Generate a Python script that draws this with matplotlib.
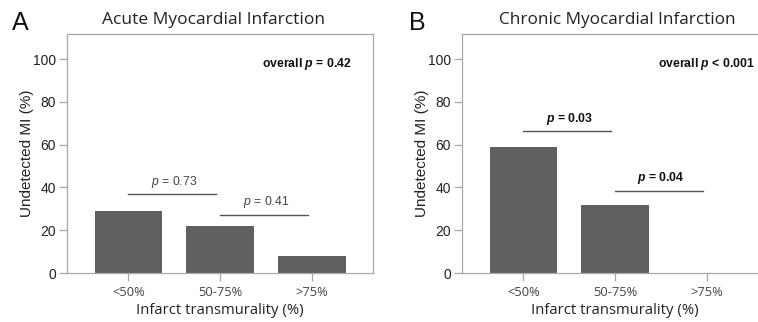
import numpy as np
import matplotlib
matplotlib.use("Agg")
import matplotlib.pyplot as plt

plt.rcParams['mathtext.fontset'] = 'custom'
plt.rcParams['mathtext.it'] = 'Liberation Sans:italic'
plt.rcParams['mathtext.bf'] = 'Liberation Sans:bold:italic'
plt.rcParams['mathtext.rm'] = 'Liberation Sans'

categories = ['<50%', '50-75%', '>75%']
acute = [29, 22, 8]
chronic = [59, 32, 0]

# pairwise comparisons: (left bar, right bar), bracket height, p text
pairs = [(0, 1), (1, 2)]
acute_bracket_y = [37, 27.3]
acute_p = ['0.73', '0.41']
chronic_bracket_y = [66.3, 38.5]
chronic_p = ['0.03', '0.04']

overall_p = ['= 0.42', '< 0.001']
titles = ['Acute Myocardial Infarction', 'Chronic Myocardial Infarction']
letters = ['A', 'B']

bar_color = '#606060'
spine_color = '#a8a8a8'
text_grey = '#444444'

fig = plt.figure(figsize=(7.58, 3.22), dpi=100)
ax_a = fig.add_axes([0.0884, 0.152, 0.404, 0.742])
ax_b = fig.add_axes([0.6095, 0.152, 0.404, 0.742])

panels = [
    (ax_a, acute, acute_bracket_y, acute_p, False),
    (ax_b, chronic, chronic_bracket_y, chronic_p, True),
]

x = np.arange(len(categories))
for i, (ax, vals, by, pv, bold) in enumerate(panels):
    ax.bar(x, vals, width=0.74, color=bar_color, edgecolor='none', zorder=2)
    ax.set_xlim(-0.67, 2.67)
    ax.set_ylim(0, 111.7)
    ax.set_yticks([0, 20, 40, 60, 80, 100])
    ax.set_xticks(x)
    ax.set_xticklabels(categories, fontsize=9.3, color=text_grey, family='Open Sans')
    for lab in ax.get_yticklabels():
        lab.set_fontsize(10)
        lab.set_family('Liberation Sans')
        lab.set_color('#222222')
    ax.tick_params(axis='both', direction='out', length=6, width=0.9,
                   color=spine_color, pad=2)
    ax.tick_params(axis='x', pad=3)
    for s in ax.spines.values():
        s.set_color(spine_color)
        s.set_linewidth(0.9)
    ax.set_ylabel('Undetected MI (%)', fontsize=11, family='Liberation Sans',
                  color='#222222', labelpad=-1)
    ax.set_xlabel('Infarct transmurality (%)', fontsize=10.7, family='Open Sans',
                  color='#222222', labelpad=3)

    weight = 'bold' if bold else 'normal'
    for (a, b), yb, p in zip(pairs, by, pv):
        ax.plot([a, b - 0.04], [yb, yb], color='#555555', lw=1.0, zorder=3)
        if bold:
            s = r'$\mathbf{p}$ = ' + p
        else:
            s = r'$p$ = ' + p
        ax.text((a + b) / 2, yb + 2.0, s, ha='center', va='bottom',
                fontsize=8.8, family='Liberation Sans', fontweight=weight,
                color='#111111' if bold else text_grey)

    ax.text(0.93 if i == 0 else 0.955, 0.875,
            r'overall $\mathbf{p}$ ' + overall_p[i],
            transform=ax.transAxes, ha='right', va='center', fontsize=8.8,
            family='Liberation Sans', fontweight='bold', color='#111111')

fig.text(213 / 758, 1 - 20 / 322, titles[0], ha='center', va='center',
         fontsize=12.5, family='Open Sans', color='#222222')
fig.text(617 / 758, 1 - 20 / 322, titles[1], ha='center', va='center',
         fontsize=12.3, family='Open Sans', color='#222222')
fig.text(12 / 758, 1 - 23 / 322, letters[0], ha='left', va='center',
         fontsize=18, family='Liberation Sans', color='#111111')
fig.text(409 / 758, 1 - 23 / 322, letters[1], ha='left', va='center',
         fontsize=18, family='Liberation Sans', color='#111111')

fig.savefig('out.png', dpi=100)
